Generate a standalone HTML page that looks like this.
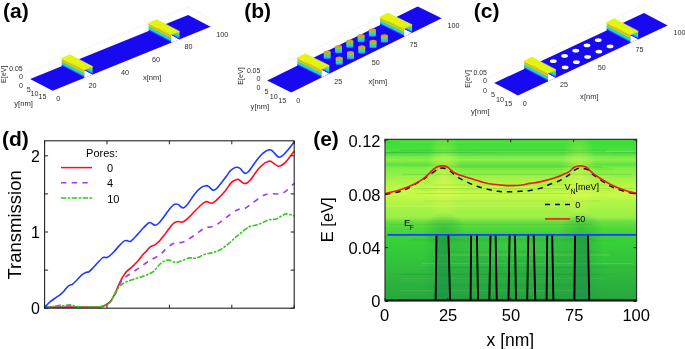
<!DOCTYPE html><html><head><meta charset="utf-8"><style>html,body{margin:0;padding:0;background:#fff;width:685px;height:349px;overflow:hidden}svg text{font-family:'Liberation Sans',sans-serif}</style></head><body><svg width="685" height="349" viewBox="0 0 685 349" style="position:absolute;left:0;top:0;filter:blur(0.45px)">
<defs><linearGradient id="bumpg" x1="0" y1="0" x2="0" y2="1"><stop offset="0" stop-color="#c8d028"/><stop offset="0.2" stop-color="#80e040"/><stop offset="0.4" stop-color="#30e070"/><stop offset="0.6" stop-color="#30c8f0"/><stop offset="0.82" stop-color="#5090ff"/><stop offset="1" stop-color="#2020f0"/></linearGradient></defs>
<rect width="685" height="349" fill="#fff"/>
<line x1="23.78" y1="73.56" x2="188.1" y2="7.1" stroke="#f0f0f0" stroke-width="0.6"/>
<line x1="188.1" y1="7.1" x2="210.6" y2="18.8" stroke="#f0f0f0" stroke-width="0.6"/>
<line x1="23.78" y1="81.56" x2="23.78" y2="73.56" stroke="#f0f0f0" stroke-width="0.6"/>
<line x1="210.6" y1="26.8" x2="210.6" y2="18.8" stroke="#f0f0f0" stroke-width="0.6"/>
<line x1="23.78" y1="81.56" x2="46.28" y2="93.26" stroke="#f0f0f0" stroke-width="0.6"/>
<polygon points="30.1,79 188.1,15.1 210.6,26.8 52.6,90.7" fill="#170af0"/>
<linearGradient id="wga20" gradientUnits="userSpaceOnUse" x1="61.7" y1="58.22" x2="58.43" y2="64.52"><stop offset="0" stop-color="#e2f410"/><stop offset="0.07" stop-color="#e6e014"/><stop offset="0.14" stop-color="#eea626"/><stop offset="0.24" stop-color="#e4b024"/><stop offset="0.32" stop-color="#b0e82c"/><stop offset="0.44" stop-color="#40e060"/><stop offset="0.58" stop-color="#28d8c8"/><stop offset="0.72" stop-color="#48b0ff"/><stop offset="0.86" stop-color="#2c48f8"/><stop offset="1" stop-color="#170af0"/></linearGradient>
<polygon points="84.2,69.92 92.57,74.53 84.2,77.92" fill="#fff"/>
<linearGradient id="fga20" gradientUnits="userSpaceOnUse" x1="92.57" y1="66.53" x2="89.3" y2="72.83"><stop offset="0" stop-color="#e2f410"/><stop offset="0.2" stop-color="#b8ec28"/><stop offset="0.42" stop-color="#40e060"/><stop offset="0.6" stop-color="#20d8d8"/><stop offset="0.78" stop-color="#40a0ff"/><stop offset="1" stop-color="#1a0cf0"/></linearGradient>
<polygon points="84.2,69.92 92.57,66.53 92.57,74.53" fill="url(#fga20)"/>
<polygon points="61.7,58.22 84.2,69.92 84.2,77.92 61.7,66.22" fill="url(#wga20)"/>
<polygon points="61.7,58.22 70.07,54.83 92.57,66.53 84.2,69.92" fill="#e2f410" stroke="#e2f410" stroke-width="0.7" stroke-linejoin="round"/>
<linearGradient id="wga75" gradientUnits="userSpaceOnUse" x1="148.6" y1="23.07" x2="145.33" y2="29.37"><stop offset="0" stop-color="#e2f410"/><stop offset="0.07" stop-color="#e6e014"/><stop offset="0.14" stop-color="#eea626"/><stop offset="0.24" stop-color="#e4b024"/><stop offset="0.32" stop-color="#b0e82c"/><stop offset="0.44" stop-color="#40e060"/><stop offset="0.58" stop-color="#28d8c8"/><stop offset="0.72" stop-color="#48b0ff"/><stop offset="0.86" stop-color="#2c48f8"/><stop offset="1" stop-color="#170af0"/></linearGradient>
<polygon points="171.1,34.77 179.47,39.39 171.1,42.77" fill="#fff"/>
<linearGradient id="fga75" gradientUnits="userSpaceOnUse" x1="179.47" y1="31.39" x2="176.2" y2="37.69"><stop offset="0" stop-color="#e2f410"/><stop offset="0.2" stop-color="#b8ec28"/><stop offset="0.42" stop-color="#40e060"/><stop offset="0.6" stop-color="#20d8d8"/><stop offset="0.78" stop-color="#40a0ff"/><stop offset="1" stop-color="#1a0cf0"/></linearGradient>
<polygon points="171.1,34.77 179.47,31.39 179.47,39.39" fill="url(#fga75)"/>
<polygon points="148.6,23.07 171.1,34.77 171.1,42.77 148.6,31.07" fill="url(#wga75)"/>
<polygon points="148.6,23.07 156.97,19.69 179.47,31.39 171.1,34.77" fill="#e2f410" stroke="#e2f410" stroke-width="0.7" stroke-linejoin="round"/>
<line x1="261.18" y1="75.57" x2="417.7" y2="-1.6" stroke="#f0f0f0" stroke-width="0.6"/>
<line x1="417.7" y1="-1.6" x2="441.7" y2="10.17" stroke="#f0f0f0" stroke-width="0.6"/>
<line x1="261.18" y1="83.57" x2="261.18" y2="75.57" stroke="#f0f0f0" stroke-width="0.6"/>
<line x1="441.7" y1="18.17" x2="441.7" y2="10.17" stroke="#f0f0f0" stroke-width="0.6"/>
<line x1="261.18" y1="83.57" x2="285.18" y2="95.34" stroke="#f0f0f0" stroke-width="0.6"/>
<polygon points="267.2,80.6 417.7,6.4 441.7,18.17 291.2,92.38" fill="#170af0"/>
<path d="M323.73,52.2 L323.73,57.8 A3.5,1.6 0 0 0 330.73,57.8 L330.73,52.2 Z" fill="url(#bumpg)"/>
<ellipse cx="327.23" cy="52.2" rx="3.5" ry="1.6" fill="#d89c28"/>
<path d="M335.01,46.64 L335.01,52.24 A3.5,1.6 0 0 0 342.01,52.24 L342.01,46.64 Z" fill="url(#bumpg)"/>
<ellipse cx="338.51" cy="46.64" rx="3.5" ry="1.6" fill="#d89c28"/>
<path d="M346.3,41.07 L346.3,46.67 A3.5,1.6 0 0 0 353.3,46.67 L353.3,41.07 Z" fill="url(#bumpg)"/>
<ellipse cx="349.8" cy="41.07" rx="3.5" ry="1.6" fill="#d89c28"/>
<path d="M357.59,35.51 L357.59,41.11 A3.5,1.6 0 0 0 364.59,41.11 L364.59,35.51 Z" fill="url(#bumpg)"/>
<ellipse cx="361.09" cy="35.51" rx="3.5" ry="1.6" fill="#d89c28"/>
<path d="M368.88,29.94 L368.88,35.54 A3.5,1.6 0 0 0 375.88,35.54 L375.88,29.94 Z" fill="url(#bumpg)"/>
<ellipse cx="372.38" cy="29.94" rx="3.5" ry="1.6" fill="#d89c28"/>
<path d="M335.73,58.09 L335.73,63.69 A3.5,1.6 0 0 0 342.73,63.69 L342.73,58.09 Z" fill="url(#bumpg)"/>
<ellipse cx="339.23" cy="58.09" rx="3.5" ry="1.6" fill="#d89c28"/>
<path d="M347.01,52.53 L347.01,58.13 A3.5,1.6 0 0 0 354.01,58.13 L354.01,52.53 Z" fill="url(#bumpg)"/>
<ellipse cx="350.51" cy="52.53" rx="3.5" ry="1.6" fill="#d89c28"/>
<path d="M358.3,46.96 L358.3,52.56 A3.5,1.6 0 0 0 365.3,52.56 L365.3,46.96 Z" fill="url(#bumpg)"/>
<ellipse cx="361.8" cy="46.96" rx="3.5" ry="1.6" fill="#d89c28"/>
<path d="M369.59,41.4 L369.59,47 A3.5,1.6 0 0 0 376.59,47 L376.59,41.4 Z" fill="url(#bumpg)"/>
<ellipse cx="373.09" cy="41.4" rx="3.5" ry="1.6" fill="#d89c28"/>
<path d="M380.88,35.83 L380.88,41.43 A3.5,1.6 0 0 0 387.88,41.43 L387.88,35.83 Z" fill="url(#bumpg)"/>
<ellipse cx="384.38" cy="35.83" rx="3.5" ry="1.6" fill="#d89c28"/>
<linearGradient id="wgb20" gradientUnits="userSpaceOnUse" x1="297.3" y1="57.76" x2="294.14" y2="64.21"><stop offset="0" stop-color="#e2f410"/><stop offset="0.07" stop-color="#e6e014"/><stop offset="0.14" stop-color="#eea626"/><stop offset="0.24" stop-color="#e4b024"/><stop offset="0.32" stop-color="#b0e82c"/><stop offset="0.44" stop-color="#40e060"/><stop offset="0.58" stop-color="#28d8c8"/><stop offset="0.72" stop-color="#48b0ff"/><stop offset="0.86" stop-color="#2c48f8"/><stop offset="1" stop-color="#170af0"/></linearGradient>
<polygon points="321.3,69.53 329.28,73.6 321.3,77.53" fill="#fff"/>
<linearGradient id="fgb20" gradientUnits="userSpaceOnUse" x1="329.28" y1="65.6" x2="326.11" y2="72.05"><stop offset="0" stop-color="#e2f410"/><stop offset="0.2" stop-color="#b8ec28"/><stop offset="0.42" stop-color="#40e060"/><stop offset="0.6" stop-color="#20d8d8"/><stop offset="0.78" stop-color="#40a0ff"/><stop offset="1" stop-color="#1a0cf0"/></linearGradient>
<polygon points="321.3,69.53 329.28,65.6 329.28,73.6" fill="url(#fgb20)"/>
<polygon points="297.3,57.76 321.3,69.53 321.3,77.53 297.3,65.76" fill="url(#wgb20)"/>
<polygon points="297.3,57.76 305.28,53.83 329.28,65.6 321.3,69.53" fill="#e2f410" stroke="#e2f410" stroke-width="0.7" stroke-linejoin="round"/>
<linearGradient id="wgb75" gradientUnits="userSpaceOnUse" x1="380.07" y1="16.95" x2="376.91" y2="23.4"><stop offset="0" stop-color="#e2f410"/><stop offset="0.07" stop-color="#e6e014"/><stop offset="0.14" stop-color="#eea626"/><stop offset="0.24" stop-color="#e4b024"/><stop offset="0.32" stop-color="#b0e82c"/><stop offset="0.44" stop-color="#40e060"/><stop offset="0.58" stop-color="#28d8c8"/><stop offset="0.72" stop-color="#48b0ff"/><stop offset="0.86" stop-color="#2c48f8"/><stop offset="1" stop-color="#170af0"/></linearGradient>
<polygon points="404.07,28.72 412.05,32.79 404.07,36.72" fill="#fff"/>
<linearGradient id="fgb75" gradientUnits="userSpaceOnUse" x1="412.05" y1="24.79" x2="408.89" y2="31.24"><stop offset="0" stop-color="#e2f410"/><stop offset="0.2" stop-color="#b8ec28"/><stop offset="0.42" stop-color="#40e060"/><stop offset="0.6" stop-color="#20d8d8"/><stop offset="0.78" stop-color="#40a0ff"/><stop offset="1" stop-color="#1a0cf0"/></linearGradient>
<polygon points="404.07,28.72 412.05,24.79 412.05,32.79" fill="url(#fgb75)"/>
<polygon points="380.07,16.95 404.07,28.72 404.07,36.72 380.07,24.95" fill="url(#wgb75)"/>
<polygon points="380.07,16.95 388.05,13.02 412.05,24.79 404.07,28.72" fill="#e2f410" stroke="#e2f410" stroke-width="0.7" stroke-linejoin="round"/>
<line x1="488.21" y1="77.7" x2="644" y2="4.9" stroke="#f0f0f0" stroke-width="0.6"/>
<line x1="644" y1="4.9" x2="667.7" y2="17.4" stroke="#f0f0f0" stroke-width="0.6"/>
<line x1="488.21" y1="85.7" x2="488.21" y2="77.7" stroke="#f0f0f0" stroke-width="0.6"/>
<line x1="667.7" y1="25.4" x2="667.7" y2="17.4" stroke="#f0f0f0" stroke-width="0.6"/>
<line x1="488.21" y1="85.7" x2="511.91" y2="98.2" stroke="#f0f0f0" stroke-width="0.6"/>
<polygon points="494.2,82.9 644,12.9 667.7,25.4 517.9,95.4" fill="#170af0"/>
<ellipse cx="553.3" cy="61.17" rx="3.4" ry="1.8" fill="#fff"/>
<ellipse cx="564.54" cy="55.92" rx="3.4" ry="1.8" fill="#fff"/>
<ellipse cx="575.77" cy="50.67" rx="3.4" ry="1.8" fill="#fff"/>
<ellipse cx="587.01" cy="45.42" rx="3.4" ry="1.8" fill="#fff"/>
<ellipse cx="598.24" cy="40.17" rx="3.4" ry="1.8" fill="#fff"/>
<ellipse cx="565.15" cy="67.42" rx="3.4" ry="1.8" fill="#fff"/>
<ellipse cx="576.39" cy="62.17" rx="3.4" ry="1.8" fill="#fff"/>
<ellipse cx="587.62" cy="56.92" rx="3.4" ry="1.8" fill="#fff"/>
<ellipse cx="598.86" cy="51.67" rx="3.4" ry="1.8" fill="#fff"/>
<ellipse cx="610.09" cy="46.42" rx="3.4" ry="1.8" fill="#fff"/>
<linearGradient id="wgc20" gradientUnits="userSpaceOnUse" x1="524.16" y1="60.9" x2="520.86" y2="67.16"><stop offset="0" stop-color="#e2f410"/><stop offset="0.07" stop-color="#e6e014"/><stop offset="0.14" stop-color="#eea626"/><stop offset="0.24" stop-color="#e4b024"/><stop offset="0.32" stop-color="#b0e82c"/><stop offset="0.44" stop-color="#40e060"/><stop offset="0.58" stop-color="#28d8c8"/><stop offset="0.72" stop-color="#48b0ff"/><stop offset="0.86" stop-color="#2c48f8"/><stop offset="1" stop-color="#170af0"/></linearGradient>
<polygon points="547.86,73.4 555.8,77.69 547.86,81.4" fill="#fff"/>
<linearGradient id="fgc20" gradientUnits="userSpaceOnUse" x1="555.8" y1="69.69" x2="552.5" y2="75.94"><stop offset="0" stop-color="#e2f410"/><stop offset="0.2" stop-color="#b8ec28"/><stop offset="0.42" stop-color="#40e060"/><stop offset="0.6" stop-color="#20d8d8"/><stop offset="0.78" stop-color="#40a0ff"/><stop offset="1" stop-color="#1a0cf0"/></linearGradient>
<polygon points="547.86,73.4 555.8,69.69 555.8,77.69" fill="url(#fgc20)"/>
<polygon points="524.16,60.9 547.86,73.4 547.86,81.4 524.16,68.9" fill="url(#wgc20)"/>
<polygon points="524.16,60.9 532.1,57.19 555.8,69.69 547.86,73.4" fill="#e2f410" stroke="#e2f410" stroke-width="0.7" stroke-linejoin="round"/>
<linearGradient id="wgc75" gradientUnits="userSpaceOnUse" x1="606.55" y1="22.4" x2="603.25" y2="28.66"><stop offset="0" stop-color="#e2f410"/><stop offset="0.07" stop-color="#e6e014"/><stop offset="0.14" stop-color="#eea626"/><stop offset="0.24" stop-color="#e4b024"/><stop offset="0.32" stop-color="#b0e82c"/><stop offset="0.44" stop-color="#40e060"/><stop offset="0.58" stop-color="#28d8c8"/><stop offset="0.72" stop-color="#48b0ff"/><stop offset="0.86" stop-color="#2c48f8"/><stop offset="1" stop-color="#170af0"/></linearGradient>
<polygon points="630.25,34.9 638.19,39.19 630.25,42.9" fill="#fff"/>
<linearGradient id="fgc75" gradientUnits="userSpaceOnUse" x1="638.19" y1="31.19" x2="634.89" y2="37.44"><stop offset="0" stop-color="#e2f410"/><stop offset="0.2" stop-color="#b8ec28"/><stop offset="0.42" stop-color="#40e060"/><stop offset="0.6" stop-color="#20d8d8"/><stop offset="0.78" stop-color="#40a0ff"/><stop offset="1" stop-color="#1a0cf0"/></linearGradient>
<polygon points="630.25,34.9 638.19,31.19 638.19,39.19" fill="url(#fgc75)"/>
<polygon points="606.55,22.4 630.25,34.9 630.25,42.9 606.55,30.4" fill="url(#wgc75)"/>
<polygon points="606.55,22.4 614.49,18.69 638.19,31.19 630.25,34.9" fill="#e2f410" stroke="#e2f410" stroke-width="0.7" stroke-linejoin="round"/>
<text x="3" y="18.2" font-size="21" text-anchor="start" font-weight="bold" fill="#000" style="font-family:'Liberation Sans',sans-serif" >(a)</text>
<text x="244.2" y="18.4" font-size="21" text-anchor="start" font-weight="bold" fill="#000" style="font-family:'Liberation Sans',sans-serif" >(b)</text>
<text x="473.8" y="18.4" font-size="21" text-anchor="start" font-weight="bold" fill="#000" style="font-family:'Liberation Sans',sans-serif" >(c)</text>
<text x="2" y="146.2" font-size="21" text-anchor="start" font-weight="bold" fill="#000" style="font-family:'Liberation Sans',sans-serif" >(d)</text>
<text x="313.2" y="146.4" font-size="21" text-anchor="start" font-weight="bold" fill="#000" style="font-family:'Liberation Sans',sans-serif" >(e)</text>
<text x="16" y="70.7" font-size="6.9" text-anchor="middle" font-weight="normal" fill="#2a2a2a" style="font-family:'Liberation Sans',sans-serif" >0.05</text>
<text x="21" y="78.7" font-size="7.2" text-anchor="middle" font-weight="normal" fill="#2a2a2a" style="font-family:'Liberation Sans',sans-serif" >0</text>
<text x="21" y="87.6" font-size="7.2" text-anchor="middle" font-weight="normal" fill="#2a2a2a" style="font-family:'Liberation Sans',sans-serif" >0</text>
<text x="28.7" y="91.8" font-size="7.2" text-anchor="middle" font-weight="normal" fill="#2a2a2a" style="font-family:'Liberation Sans',sans-serif" >5</text>
<text x="34.6" y="96.1" font-size="7.2" text-anchor="middle" font-weight="normal" fill="#2a2a2a" style="font-family:'Liberation Sans',sans-serif" >10</text>
<text x="42.5" y="99.4" font-size="7.2" text-anchor="middle" font-weight="normal" fill="#2a2a2a" style="font-family:'Liberation Sans',sans-serif" >15</text>
<text x="58.3" y="100.5" font-size="7.2" text-anchor="middle" font-weight="normal" fill="#2a2a2a" style="font-family:'Liberation Sans',sans-serif" >0</text>
<text x="92.5" y="88.2" font-size="7.2" text-anchor="middle" font-weight="normal" fill="#2a2a2a" style="font-family:'Liberation Sans',sans-serif" >20</text>
<text x="125" y="75.2" font-size="7.2" text-anchor="middle" font-weight="normal" fill="#2a2a2a" style="font-family:'Liberation Sans',sans-serif" >40</text>
<text x="156" y="61.7" font-size="7.2" text-anchor="middle" font-weight="normal" fill="#2a2a2a" style="font-family:'Liberation Sans',sans-serif" >60</text>
<text x="188.5" y="48.9" font-size="7.2" text-anchor="middle" font-weight="normal" fill="#2a2a2a" style="font-family:'Liberation Sans',sans-serif" >80</text>
<text x="222.3" y="36.8" font-size="7.2" text-anchor="middle" font-weight="normal" fill="#2a2a2a" style="font-family:'Liberation Sans',sans-serif" >100</text>
<text x="23.6" y="106.4" font-size="7.6" text-anchor="middle" font-weight="normal" fill="#2a2a2a" style="font-family:'Liberation Sans',sans-serif" >y[nm]</text>
<text x="152.2" y="79.8" font-size="7.6" text-anchor="middle" font-weight="normal" fill="#2a2a2a" style="font-family:'Liberation Sans',sans-serif" >x[nm]</text>
<text transform="translate(6.1,74.3) rotate(-90)" font-size="7.2" text-anchor="middle" fill="#2a2a2a" style="font-family:'Liberation Sans',sans-serif">E[eV]</text>
<text x="253.6" y="72.7" font-size="6.9" text-anchor="middle" font-weight="normal" fill="#2a2a2a" style="font-family:'Liberation Sans',sans-serif" >0.05</text>
<text x="258.6" y="80.8" font-size="7.2" text-anchor="middle" font-weight="normal" fill="#2a2a2a" style="font-family:'Liberation Sans',sans-serif" >0</text>
<text x="258.6" y="89.6" font-size="7.2" text-anchor="middle" font-weight="normal" fill="#2a2a2a" style="font-family:'Liberation Sans',sans-serif" >0</text>
<text x="266.4" y="94.2" font-size="7.2" text-anchor="middle" font-weight="normal" fill="#2a2a2a" style="font-family:'Liberation Sans',sans-serif" >5</text>
<text x="273.8" y="99" font-size="7.2" text-anchor="middle" font-weight="normal" fill="#2a2a2a" style="font-family:'Liberation Sans',sans-serif" >10</text>
<text x="282.2" y="103" font-size="7.2" text-anchor="middle" font-weight="normal" fill="#2a2a2a" style="font-family:'Liberation Sans',sans-serif" >15</text>
<text x="298.2" y="102.9" font-size="7.2" text-anchor="middle" font-weight="normal" fill="#2a2a2a" style="font-family:'Liberation Sans',sans-serif" >0</text>
<text x="338.2" y="84.4" font-size="7.2" text-anchor="middle" font-weight="normal" fill="#2a2a2a" style="font-family:'Liberation Sans',sans-serif" >25</text>
<text x="375.8" y="65.4" font-size="7.2" text-anchor="middle" font-weight="normal" fill="#2a2a2a" style="font-family:'Liberation Sans',sans-serif" >50</text>
<text x="413.5" y="46.7" font-size="7.2" text-anchor="middle" font-weight="normal" fill="#2a2a2a" style="font-family:'Liberation Sans',sans-serif" >75</text>
<text x="453.5" y="28.3" font-size="7.2" text-anchor="middle" font-weight="normal" fill="#2a2a2a" style="font-family:'Liberation Sans',sans-serif" >100</text>
<text x="259.9" y="109.2" font-size="7.6" text-anchor="middle" font-weight="normal" fill="#2a2a2a" style="font-family:'Liberation Sans',sans-serif" >y[nm]</text>
<text x="377.8" y="84.1" font-size="7.6" text-anchor="middle" font-weight="normal" fill="#2a2a2a" style="font-family:'Liberation Sans',sans-serif" >x[nm]</text>
<text transform="translate(242.6,76.0) rotate(-90)" font-size="7.2" text-anchor="middle" fill="#2a2a2a" style="font-family:'Liberation Sans',sans-serif">E[eV]</text>
<text x="480.2" y="75.3" font-size="6.9" text-anchor="middle" font-weight="normal" fill="#2a2a2a" style="font-family:'Liberation Sans',sans-serif" >0.05</text>
<text x="485.1" y="83.4" font-size="7.2" text-anchor="middle" font-weight="normal" fill="#2a2a2a" style="font-family:'Liberation Sans',sans-serif" >0</text>
<text x="485.1" y="92.8" font-size="7.2" text-anchor="middle" font-weight="normal" fill="#2a2a2a" style="font-family:'Liberation Sans',sans-serif" >0</text>
<text x="493.1" y="96.6" font-size="7.2" text-anchor="middle" font-weight="normal" fill="#2a2a2a" style="font-family:'Liberation Sans',sans-serif" >5</text>
<text x="499.9" y="101.5" font-size="7.2" text-anchor="middle" font-weight="normal" fill="#2a2a2a" style="font-family:'Liberation Sans',sans-serif" >10</text>
<text x="508.3" y="105.8" font-size="7.2" text-anchor="middle" font-weight="normal" fill="#2a2a2a" style="font-family:'Liberation Sans',sans-serif" >15</text>
<text x="524.8" y="105.6" font-size="7.2" text-anchor="middle" font-weight="normal" fill="#2a2a2a" style="font-family:'Liberation Sans',sans-serif" >0</text>
<text x="564" y="87.3" font-size="7.2" text-anchor="middle" font-weight="normal" fill="#2a2a2a" style="font-family:'Liberation Sans',sans-serif" >25</text>
<text x="601.7" y="70.3" font-size="7.2" text-anchor="middle" font-weight="normal" fill="#2a2a2a" style="font-family:'Liberation Sans',sans-serif" >50</text>
<text x="639.6" y="52.4" font-size="7.2" text-anchor="middle" font-weight="normal" fill="#2a2a2a" style="font-family:'Liberation Sans',sans-serif" >75</text>
<text x="679.5" y="35.2" font-size="7.2" text-anchor="middle" font-weight="normal" fill="#2a2a2a" style="font-family:'Liberation Sans',sans-serif" >100</text>
<text x="480.3" y="114.2" font-size="7.6" text-anchor="middle" font-weight="normal" fill="#2a2a2a" style="font-family:'Liberation Sans',sans-serif" >y[nm]</text>
<text x="589.4" y="98.6" font-size="7.6" text-anchor="middle" font-weight="normal" fill="#2a2a2a" style="font-family:'Liberation Sans',sans-serif" >x[nm]</text>
<text transform="translate(470.1,78.9) rotate(-90)" font-size="7.2" text-anchor="middle" fill="#2a2a2a" style="font-family:'Liberation Sans',sans-serif">E[eV]</text>
<clipPath id="clipd"><rect x="44.6" y="138.8" width="250.6" height="169.39999999999998"/></clipPath>
<g clip-path="url(#clipd)" fill="none" stroke-width="1.6" stroke-linejoin="round">
<path d="M44.6,307.1 C47.17,307.1 54.1,307.1 60,307.1 C65.9,307.1 74.17,307.12 80,307.1 C85.83,307.08 91.45,307.07 95,307 C98.55,306.93 99.47,307.08 101.3,306.7 C103.13,306.32 104.42,305.7 106,304.7 C107.58,303.7 109.35,302.42 110.8,300.7 C112.25,298.98 113.4,297.02 114.7,294.4 C116,291.78 117.28,287.88 118.6,285 C119.92,282.12 121.28,279.33 122.6,277.1 C123.92,274.87 125.05,273.18 126.5,271.6 C127.95,270.02 129.45,269.32 131.3,267.6 C133.15,265.88 135.77,263.33 137.6,261.3 C139.43,259.27 140.9,257.03 142.3,255.4 C143.7,253.77 144.77,252.85 146,251.5 C147.23,250.15 148.67,248.25 149.7,247.3 C150.73,246.35 151.42,246.15 152.2,245.8 C152.98,245.45 153.23,245.97 154.4,245.2 C155.57,244.43 157.62,242.8 159.2,241.2 C160.78,239.6 162.33,237.58 163.9,235.6 C165.47,233.62 167.15,231.2 168.6,229.3 C170.05,227.4 171.45,225.38 172.6,224.2 C173.75,223.02 174.58,222.65 175.5,222.2 C176.42,221.75 176.93,221.52 178.1,221.5 C179.27,221.48 180.75,222.75 182.5,222.1 C184.25,221.45 186.57,219.4 188.6,217.6 C190.63,215.8 192.63,213.4 194.7,211.3 C196.77,209.2 199.45,206.45 201,205 C202.55,203.55 203.03,203.17 204,202.6 C204.97,202.03 205.55,201.5 206.8,201.6 C208.05,201.7 210.13,203.25 211.5,203.2 C212.87,203.15 213.87,202.1 215,201.3 C216.13,200.5 216.63,200.08 218.3,198.4 C219.97,196.72 222.83,193.83 225,191.2 C227.17,188.57 229.55,184.47 231.3,182.6 C233.05,180.73 234.32,180.5 235.5,180 C236.68,179.5 236.87,179 238.4,179.6 C239.93,180.2 242.73,183.5 244.7,183.6 C246.67,183.7 247.97,182.6 250.2,180.2 C252.43,177.8 255.73,172.02 258.1,169.2 C260.47,166.38 262.75,164.57 264.4,163.3 C266.05,162.03 266.95,161.93 268,161.6 C269.05,161.27 268.93,160.52 270.7,161.3 C272.47,162.08 276.23,166.03 278.6,166.3 C280.97,166.57 282.8,164.78 284.9,162.9 C287,161.02 289.62,156.98 291.2,155 C292.78,153.02 293.87,151.67 294.4,151" stroke="#ff0c1e"/>
<path d="M44.6,307.2 C45.83,307.15 50.1,307.1 52,306.9 C53.9,306.7 54.67,306.22 56,306 C57.33,305.78 58.67,305.53 60,305.6 C61.33,305.67 62.67,306.43 64,306.4 C65.33,306.37 66.67,305.5 68,305.4 C69.33,305.3 70.67,305.63 72,305.8 C73.33,305.97 74.67,306.2 76,306.4 C77.33,306.6 76.83,306.9 80,307 C83.17,307.1 91.45,307.07 95,307 C98.55,306.93 99.72,306.73 101.3,306.6 C102.88,306.47 102.92,307.05 104.5,306.2 C106.08,305.35 109.1,303.33 110.8,301.5 C112.5,299.67 113.4,297.7 114.7,295.2 C116,292.7 117.28,289.13 118.6,286.5 C119.92,283.87 121.28,281.1 122.6,279.4 C123.92,277.7 124.27,277.87 126.5,276.3 C128.73,274.73 132.32,272.5 136,270 C139.68,267.5 144.67,263.8 148.6,261.3 C152.53,258.8 156.6,257.2 159.6,255 C162.6,252.8 164.38,249.97 166.6,248.1 C168.82,246.23 171.07,244.77 172.9,243.8 C174.73,242.83 176.15,242.52 177.6,242.3 C179.05,242.08 180.02,242.85 181.6,242.5 C183.18,242.15 184.62,241.63 187.1,240.2 C189.58,238.77 193.48,236 196.5,233.9 C199.52,231.8 202.83,228.73 205.2,227.6 C207.57,226.47 208.73,227.63 210.7,227.1 C212.67,226.57 214.37,226.03 217,224.4 C219.63,222.77 223.85,219.32 226.5,217.3 C229.15,215.28 231.15,213.52 232.9,212.3 C234.65,211.08 235.68,210.57 237,210 C238.32,209.43 239.52,209.13 240.8,208.9 C242.08,208.67 242.87,209.48 244.7,208.6 C246.53,207.72 249.03,205.6 251.8,203.6 C254.57,201.6 258.93,198.12 261.3,196.6 C263.67,195.08 264.43,195.03 266,194.5 C267.57,193.97 268.6,193.48 270.7,193.4 C272.8,193.32 276.23,194.27 278.6,194 C280.97,193.73 282.53,193.35 284.9,191.8 C287.27,190.25 291.22,186.12 292.8,184.7 C294.38,183.28 294.13,183.53 294.4,183.3" stroke="#a436f4" stroke-dasharray="5.4 5.4"/>
<path d="M44.6,307.2 C45.83,307.13 50.1,307.03 52,306.8 C53.9,306.57 54.67,306.07 56,305.8 C57.33,305.53 58.83,305.18 60,305.2 C61.17,305.22 62,305.88 63,305.9 C64,305.92 64.83,305.45 66,305.3 C67.17,305.15 68.67,304.93 70,305 C71.33,305.07 72.67,305.4 74,305.7 C75.33,306 74.5,306.58 78,306.8 C81.5,307.02 91.12,307.03 95,307 C98.88,306.97 99.72,306.73 101.3,306.6 C102.88,306.47 102.92,307.05 104.5,306.2 C106.08,305.35 108.97,303.78 110.8,301.5 C112.63,299.22 113.93,295.13 115.5,292.5 C117.07,289.87 118.37,287.48 120.2,285.7 C122.03,283.92 123.87,282.98 126.5,281.8 C129.13,280.62 132.85,279.65 136,278.6 C139.15,277.55 142.52,276.67 145.4,275.5 C148.28,274.33 150.93,273.43 153.3,271.6 C155.67,269.77 157.83,266.22 159.6,264.5 C161.37,262.78 162.4,262.03 163.9,261.3 C165.4,260.57 166.92,259.97 168.6,260.1 C170.28,260.23 172.47,261.75 174,262.1 C175.53,262.45 176.3,262.5 177.8,262.2 C179.3,261.9 181.03,261.02 183,260.3 C184.97,259.58 187.35,258.27 189.6,257.9 C191.85,257.53 194.03,258.68 196.5,258.1 C198.97,257.52 201.77,255.28 204.4,254.4 C207.03,253.52 209.67,253.58 212.3,252.8 C214.93,252.02 217.57,251.15 220.2,249.7 C222.83,248.25 225.63,246.08 228.1,244.1 C230.57,242.12 233.15,239.42 235,237.8 C236.85,236.18 236.93,236.2 239.2,234.4 C241.47,232.6 245.72,228.58 248.6,227 C251.48,225.42 254.13,225.63 256.5,224.9 C258.87,224.17 260.7,223.47 262.8,222.6 C264.9,221.73 266.87,220.28 269.1,219.7 C271.33,219.12 274.08,219.73 276.2,219.1 C278.32,218.47 280.08,216.77 281.8,215.9 C283.52,215.03 284.67,213.97 286.5,213.9 C288.33,213.83 291.48,215.15 292.8,215.5 C294.12,215.85 294.13,215.92 294.4,216" stroke="#36c620" stroke-dasharray="5.4 1.4 2.6 1.4"/>
<path d="M44.6,307.9 C44.77,307.65 44.65,307.43 45.6,306.4 C46.55,305.37 48.6,303.15 50.3,301.7 C52,300.25 54.08,298.93 55.8,297.7 C57.52,296.47 59.15,295.5 60.6,294.3 C62.05,293.1 63.33,291.77 64.5,290.5 C65.67,289.23 66.65,287.62 67.6,286.7 C68.55,285.78 69.4,285.4 70.2,285 C71,284.6 71.27,285.13 72.4,284.3 C73.53,283.47 75.43,281.57 77,280 C78.57,278.43 80.33,276.15 81.8,274.9 C83.27,273.65 84.62,273.03 85.8,272.5 C86.98,271.97 87.78,272.38 88.9,271.7 C90.02,271.02 91.32,269.58 92.5,268.4 C93.68,267.22 94.37,266.33 96,264.6 C97.63,262.87 100.83,259.2 102.3,258 C103.77,256.8 104,257.48 104.8,257.4 C105.6,257.32 106.23,257.82 107.1,257.5 C107.97,257.18 108.93,256.38 110,255.5 C111.07,254.62 111.87,253.93 113.5,252.2 C115.13,250.47 117.97,246.98 119.8,245.1 C121.63,243.22 123.2,241.63 124.5,240.9 C125.8,240.17 126.55,240.65 127.6,240.7 C128.65,240.75 129.22,242.17 130.8,241.2 C132.38,240.23 135,237.13 137.1,234.9 C139.2,232.67 141.43,229.83 143.4,227.8 C145.37,225.77 147.58,223.47 148.9,222.7 C150.22,221.93 150.25,222.78 151.3,223.2 C152.35,223.62 153.88,225.28 155.2,225.2 C156.52,225.12 157.75,224.12 159.2,222.7 C160.65,221.28 162.45,218.6 163.9,216.7 C165.35,214.8 166.63,212.95 167.9,211.3 C169.17,209.65 170.32,207.98 171.5,206.8 C172.68,205.62 173.9,204.6 175,204.2 C176.1,203.8 176.78,203.78 178.1,204.4 C179.42,205.02 181.32,207.93 182.9,207.9 C184.48,207.87 185.63,206.53 187.6,204.2 C189.57,201.87 192.47,196.67 194.7,193.9 C196.93,191.13 199.17,188.97 201,187.6 C202.83,186.23 204.38,185.87 205.7,185.7 C207.02,185.53 207.72,185.87 208.9,186.6 C210.08,187.33 211.48,189.8 212.8,190.1 C214.12,190.4 215.08,190 216.8,188.4 C218.52,186.8 221.4,182.65 223.1,180.5 C224.8,178.35 225.77,177.13 227,175.5 C228.23,173.87 229,172.07 230.5,170.7 C232,169.33 234.42,167.68 236,167.3 C237.58,166.92 238.55,167.42 240,168.4 C241.45,169.38 243.27,172.68 244.7,173.2 C246.13,173.72 246.63,173.62 248.6,171.5 C250.57,169.38 254.13,163.52 256.5,160.5 C258.87,157.48 260.7,155.18 262.8,153.4 C264.9,151.62 267.52,150.22 269.1,149.8 C270.68,149.38 270.72,149.68 272.3,150.9 C273.88,152.12 276.77,156.42 278.6,157.1 C280.43,157.78 281.47,156.53 283.3,155 C285.13,153.47 287.75,150.17 289.6,147.9 C291.45,145.63 293.6,142.48 294.4,141.4" stroke="#1e3cff"/>
</g>
<rect x="44.6" y="140.8" width="249.6" height="167.39999999999998" fill="none" stroke="#222" stroke-width="1.1"/>
<line x1="44.6" y1="308.2" x2="44.6" y2="304.7" stroke="#222" stroke-width="1"/>
<line x1="44.6" y1="140.8" x2="44.6" y2="144.3" stroke="#222" stroke-width="1"/>
<line x1="107" y1="308.2" x2="107" y2="304.7" stroke="#222" stroke-width="1"/>
<line x1="107" y1="140.8" x2="107" y2="144.3" stroke="#222" stroke-width="1"/>
<line x1="169.4" y1="308.2" x2="169.4" y2="304.7" stroke="#222" stroke-width="1"/>
<line x1="169.4" y1="140.8" x2="169.4" y2="144.3" stroke="#222" stroke-width="1"/>
<line x1="231.8" y1="308.2" x2="231.8" y2="304.7" stroke="#222" stroke-width="1"/>
<line x1="231.8" y1="140.8" x2="231.8" y2="144.3" stroke="#222" stroke-width="1"/>
<line x1="294.2" y1="308.2" x2="294.2" y2="304.7" stroke="#222" stroke-width="1"/>
<line x1="294.2" y1="140.8" x2="294.2" y2="144.3" stroke="#222" stroke-width="1"/>
<line x1="44.6" y1="308.2" x2="48.1" y2="308.2" stroke="#222" stroke-width="1"/>
<line x1="294.2" y1="308.2" x2="290.7" y2="308.2" stroke="#222" stroke-width="1"/>
<line x1="44.6" y1="270.1" x2="48.1" y2="270.1" stroke="#222" stroke-width="1"/>
<line x1="294.2" y1="270.1" x2="290.7" y2="270.1" stroke="#222" stroke-width="1"/>
<line x1="44.6" y1="232" x2="48.1" y2="232" stroke="#222" stroke-width="1"/>
<line x1="294.2" y1="232" x2="290.7" y2="232" stroke="#222" stroke-width="1"/>
<line x1="44.6" y1="193.9" x2="48.1" y2="193.9" stroke="#222" stroke-width="1"/>
<line x1="294.2" y1="193.9" x2="290.7" y2="193.9" stroke="#222" stroke-width="1"/>
<line x1="44.6" y1="155.8" x2="48.1" y2="155.8" stroke="#222" stroke-width="1"/>
<line x1="294.2" y1="155.8" x2="290.7" y2="155.8" stroke="#222" stroke-width="1"/>
<text x="40" y="162.2" font-size="16" text-anchor="end" font-weight="normal" fill="#000" style="font-family:'Liberation Sans',sans-serif" >2</text>
<text x="40" y="237.6" font-size="16" text-anchor="end" font-weight="normal" fill="#000" style="font-family:'Liberation Sans',sans-serif" >1</text>
<text x="40" y="314" font-size="16" text-anchor="end" font-weight="normal" fill="#000" style="font-family:'Liberation Sans',sans-serif" >0</text>
<text transform="translate(20.6,224.9) rotate(-90)" font-size="18.5" text-anchor="middle" style="font-family:'Liberation Sans',sans-serif">Transmission</text>
<text x="102" y="157.4" font-size="11" text-anchor="middle" font-weight="normal" fill="#000" style="font-family:'Liberation Sans',sans-serif" >Pores:</text>
<line x1="61" y1="167.6" x2="92" y2="167.6" stroke="#ff0c1e" stroke-width="1.5"/>
<line x1="61" y1="182.7" x2="92" y2="182.7" stroke="#a436f4" stroke-width="1.6" stroke-dasharray="5.3 5.4"/>
<line x1="61" y1="198" x2="92" y2="198" stroke="#36c620" stroke-width="1.6" stroke-dasharray="5.4 1.4 2.6 1.4"/>
<text x="107" y="171.5" font-size="11" text-anchor="start" font-weight="normal" fill="#000" style="font-family:'Liberation Sans',sans-serif" >0</text>
<text x="107" y="186.8" font-size="11" text-anchor="start" font-weight="normal" fill="#000" style="font-family:'Liberation Sans',sans-serif" >4</text>
<text x="107.2" y="202.5" font-size="11" text-anchor="start" font-weight="normal" fill="#000" style="font-family:'Liberation Sans',sans-serif" >10</text>
<defs><linearGradient id="ebg" x1="0" y1="0" x2="0" y2="1"><stop offset="0.0000" stop-color="#3cdc36"/><stop offset="0.1151" stop-color="#48e03c"/><stop offset="0.1276" stop-color="#66e84a"/><stop offset="0.1464" stop-color="#4adc3c"/><stop offset="0.1851" stop-color="#78ec48"/><stop offset="0.2165" stop-color="#8af046"/><stop offset="0.2636" stop-color="#62e042"/><stop offset="0.3002" stop-color="#7eee46"/><stop offset="0.3839" stop-color="#94f048"/><stop offset="0.4257" stop-color="#a8f444"/><stop offset="0.5199" stop-color="#c2f844"/><stop offset="0.5826" stop-color="#c8fa46"/><stop offset="0.6454" stop-color="#b4f646"/><stop offset="0.7395" stop-color="#a4f246"/><stop offset="0.8232" stop-color="#96ee46"/><stop offset="0.8598" stop-color="#6ae040"/><stop offset="0.9278" stop-color="#50d83c"/><stop offset="1.0000" stop-color="#42d238"/></linearGradient><linearGradient id="elow" x1="0" y1="0" x2="0" y2="1"><stop offset="0" stop-color="#3ad438"/><stop offset="0.3" stop-color="#34c83a"/><stop offset="0.7" stop-color="#2cb43e"/><stop offset="1" stop-color="#26a640"/></linearGradient><linearGradient id="emid" x1="0" y1="0" x2="1" y2="0"><stop offset="0" stop-color="#1e9444" stop-opacity="0"/><stop offset="0.1" stop-color="#1e9444" stop-opacity="0.3"/><stop offset="0.9" stop-color="#1e9444" stop-opacity="0.3"/><stop offset="1" stop-color="#1e9444" stop-opacity="0"/></linearGradient><radialGradient id="epk"><stop offset="0" stop-color="#e8f850" stop-opacity="0.55"/><stop offset="1" stop-color="#e8f850" stop-opacity="0"/></radialGradient><radialGradient id="edk"><stop offset="0" stop-color="#28b040" stop-opacity="0.55"/><stop offset="0.5" stop-color="#28b040" stop-opacity="0.3"/><stop offset="1" stop-color="#22a040" stop-opacity="0"/></radialGradient><clipPath id="clipe"><rect x="385" y="139.3" width="251.6" height="161.6"/></clipPath></defs>
<g clip-path="url(#clipe)">
<rect x="385.0" y="139.3" width="251.60000000000002" height="95.6" fill="url(#ebg)"/>
<rect x="385.0" y="234.9" width="251.60000000000002" height="65.99999999999997" fill="url(#elow)"/>
<rect x="422" y="234.9" width="182" height="65.99999999999997" fill="url(#emid)"/>
<ellipse cx="444" cy="176" rx="18" ry="48" fill="url(#epk)"/>
<ellipse cx="579" cy="176" rx="18" ry="48" fill="url(#epk)"/>
<radialGradient id="emg"><stop offset="0" stop-color="#50d850" stop-opacity="0.45"/><stop offset="1" stop-color="#50d850" stop-opacity="0"/></radialGradient>
<ellipse cx="512" cy="246" rx="75" ry="14" fill="url(#emg)"/>
<ellipse cx="444" cy="230" rx="22" ry="18" fill="url(#edk)"/>
<ellipse cx="581" cy="230" rx="22" ry="18" fill="url(#edk)"/>
<rect x="421.2" y="178.1" width="177.2" height="0.7" fill="#ffffa0" opacity="0.12"/>
<rect x="399.1" y="142.1" width="177.2" height="1.0" fill="#ffffa0" opacity="0.15"/>
<rect x="394.0" y="273.8" width="203.9" height="1.3" fill="#108030" opacity="0.11"/>
<rect x="388.8" y="223.7" width="201.7" height="1.1" fill="#108030" opacity="0.14"/>
<rect x="413.4" y="188.2" width="179.5" height="1.3" fill="#108030" opacity="0.05"/>
<rect x="433.1" y="254.3" width="176.3" height="1.3" fill="#ffffa0" opacity="0.16"/>
<rect x="398.0" y="280.6" width="180.1" height="0.9" fill="#ffffa0" opacity="0.06"/>
<rect x="408.2" y="240.3" width="206.8" height="1.1" fill="#108030" opacity="0.09"/>
<rect x="436.4" y="284.7" width="140.2" height="1.1" fill="#108030" opacity="0.13"/>
<rect x="439.3" y="166.1" width="162.6" height="1.2" fill="#108030" opacity="0.15"/>
<rect x="402.1" y="173.8" width="230.1" height="1.3" fill="#108030" opacity="0.15"/>
<rect x="409.6" y="298.4" width="217.3" height="0.8" fill="#108030" opacity="0.06"/>
<rect x="421.9" y="263.0" width="211.4" height="1.2" fill="#ffffa0" opacity="0.15"/>
<rect x="415.3" y="193.0" width="160.8" height="0.8" fill="#108030" opacity="0.16"/>
<rect x="396.8" y="152.3" width="214.7" height="1.1" fill="#ffffa0" opacity="0.12"/>
<rect x="403.8" y="165.0" width="174.7" height="1.3" fill="#108030" opacity="0.06"/>
<rect x="423.6" y="200.4" width="176.6" height="1.0" fill="#108030" opacity="0.11"/>
<rect x="410.9" y="239.2" width="181.9" height="0.8" fill="#108030" opacity="0.16"/>
<rect x="417.9" y="188.2" width="217.4" height="0.9" fill="#108030" opacity="0.17"/>
<rect x="422.9" y="232.8" width="209.5" height="1.1" fill="#108030" opacity="0.05"/>
<rect x="427.4" y="214.6" width="164.3" height="0.6" fill="#ffffa0" opacity="0.13"/>
<rect x="400.1" y="149.7" width="208.6" height="1.1" fill="#108030" opacity="0.13"/>
<rect x="407.1" y="191.2" width="193.1" height="0.8" fill="#ffffa0" opacity="0.09"/>
<rect x="419.2" y="200.3" width="172.7" height="0.8" fill="#ffffa0" opacity="0.14"/>
<rect x="396.2" y="175.6" width="213.6" height="1.2" fill="#ffffa0" opacity="0.15"/>
<rect x="435.0" y="156.3" width="174.7" height="1.3" fill="#ffffa0" opacity="0.09"/>
<rect x="438.1" y="167.1" width="170.8" height="0.8" fill="#108030" opacity="0.09"/>
<rect x="433.4" y="159.3" width="152.3" height="0.7" fill="#ffffa0" opacity="0.11"/>
<rect x="433.4" y="184.6" width="181.9" height="0.7" fill="#108030" opacity="0.15"/>
<rect x="405.8" y="186.7" width="205.2" height="0.9" fill="#ffffa0" opacity="0.15"/>
<rect x="385.3" y="205.5" width="194.1" height="1.3" fill="#ffffa0" opacity="0.16"/>
<rect x="440.6" y="297.9" width="182.0" height="1.2" fill="#108030" opacity="0.10"/>
<rect x="402.3" y="273.9" width="213.2" height="0.8" fill="#108030" opacity="0.13"/>
<rect x="433.6" y="150.9" width="199.7" height="1.3" fill="#ffffa0" opacity="0.12"/>
<rect x="439.0" y="251.0" width="162.4" height="0.6" fill="#108030" opacity="0.16"/>
<rect x="424.8" y="259.2" width="179.7" height="0.9" fill="#ffffa0" opacity="0.07"/>
<rect x="400.1" y="290.2" width="184.2" height="1.0" fill="#ffffa0" opacity="0.12"/>
<rect x="417.1" y="265.2" width="169.9" height="0.7" fill="#ffffa0" opacity="0.09"/>
<rect x="434.4" y="266.7" width="201.1" height="1.1" fill="#108030" opacity="0.16"/>
<rect x="401.1" y="278.0" width="203.2" height="0.9" fill="#ffffa0" opacity="0.06"/>
<rect x="388.3" y="215.7" width="240.1" height="0.7" fill="#ffffa0" opacity="0.14"/>
<rect x="390.2" y="150.9" width="215.7" height="0.9" fill="#108030" opacity="0.17"/>
<rect x="420.2" y="190.3" width="194.2" height="0.8" fill="#108030" opacity="0.09"/>
<rect x="428.0" y="192.6" width="185.2" height="0.7" fill="#108030" opacity="0.06"/>
<rect x="432.0" y="168.6" width="181.2" height="1.2" fill="#108030" opacity="0.09"/>
<linearGradient id="edl" x1="0" y1="0" x2="1" y2="0"><stop offset="0" stop-color="#28a83c" stop-opacity="0.8"/><stop offset="0.3" stop-color="#28a83c" stop-opacity="0.6"/><stop offset="0.5" stop-color="#28a83c" stop-opacity="0.35"/><stop offset="1" stop-color="#28a83c" stop-opacity="0.45"/></linearGradient>
<rect x="385.0" y="151.8" width="251.60000000000002" height="1.0" fill="url(#edl)"/>
</g>
<polygon points="436.5,234.9 448.4,234.9 450.1,300.9 435.6,300.9" fill="#1e9048" opacity="0.55"/>
<polygon points="575,234.9 588,234.9 589.2,300.9 574.4,300.9" fill="#1e9048" opacity="0.55"/>
<path d="M435.6,300.9 L436.5,234.9 M448.4,234.9 L450.1,300.9" stroke="#000" stroke-width="1.9" fill="none"/>
<path d="M470.6,300.9 L471.1,234.9 M476.9,234.9 L478.1,300.9" stroke="#000" stroke-width="1.9" fill="none"/>
<path d="M489.3,300.9 L490.5,234.9 M495.6,234.9 L496.8,300.9" stroke="#000" stroke-width="1.9" fill="none"/>
<path d="M508.5,300.9 L509.6,234.9 M515,234.9 L516,300.9" stroke="#000" stroke-width="1.9" fill="none"/>
<path d="M527.2,300.9 L528.3,234.9 M533.7,234.9 L535.3,300.9" stroke="#000" stroke-width="1.9" fill="none"/>
<path d="M546.6,300.9 L547.2,234.9 M552.2,234.9 L553.4,300.9" stroke="#000" stroke-width="1.9" fill="none"/>
<path d="M574.4,300.9 L575,234.9 M588,234.9 L589.2,300.9" stroke="#000" stroke-width="1.9" fill="none"/>
<line x1="385.0" y1="300.4" x2="636.6" y2="300.4" stroke="#000" stroke-width="1.6"/>
<line x1="387.5" y1="234.9" x2="636.6" y2="234.9" stroke="#1a3cff" stroke-width="1.6"/>
<path d="M385.3,194.4 C388.32,193.72 397.28,192.67 403.4,190.3 C409.52,187.93 417.83,182.65 422,180.2 C426.17,177.75 425.75,177.43 428.4,175.6 C431.05,173.77 435.88,170.42 437.9,169.2 C439.92,167.98 439.48,168.47 440.5,168.3 C441.52,168.13 442.87,168.05 444,168.2 C445.13,168.35 446.32,168.75 447.3,169.2 C448.28,169.65 448.32,169.68 449.9,170.9 C451.48,172.12 454.08,174.72 456.8,176.5 C459.52,178.28 462.85,179.97 466.2,181.6 C469.55,183.23 473.37,185.03 476.9,186.3 C480.43,187.57 483.9,188.37 487.4,189.2 C490.9,190.03 494.4,190.87 497.9,191.3 C501.4,191.73 504.72,191.8 508.4,191.8 C512.08,191.8 516.4,191.53 520,191.3 C523.6,191.07 526.67,190.88 530,190.4 C533.33,189.92 536.95,189.3 540,188.4 C543.05,187.5 545.08,186.27 548.3,185 C551.52,183.73 556.9,181.87 559.3,180.8 C561.7,179.73 561.13,179.53 562.7,178.6 C564.27,177.67 567.27,176.2 568.7,175.2 C570.13,174.2 569.87,173.7 571.3,172.6 C572.73,171.5 575.58,169.32 577.3,168.6 C579.02,167.88 579.88,168.13 581.6,168.3 C583.32,168.47 586.17,168.88 587.6,169.6 C589.03,170.32 588.77,171.38 590.2,172.6 C591.63,173.82 592.85,174.63 596.2,176.9 C599.55,179.17 605.28,183.7 610.3,186.2 C615.32,188.7 621.98,190.62 626.3,191.9 C630.62,193.18 634.55,193.57 636.2,193.9" stroke="#111" stroke-width="1.5" fill="none" stroke-dasharray="5.3 5"/>
<path d="M385.3,193.6 C387.92,192.93 396.05,191.25 401,189.6 C405.95,187.95 411,185.75 415,183.7 C419,181.65 421.9,179.72 425,177.3 C428.1,174.88 431.45,170.98 433.6,169.2 C435.75,167.42 436.33,167.15 437.9,166.6 C439.47,166.05 441.43,165.83 443,165.9 C444.57,165.97 446,166.32 447.3,167 C448.6,167.68 449.52,169 450.8,170 C452.08,171 453.3,172.07 455,173 C456.7,173.93 458.5,174.73 461,175.6 C463.5,176.47 466.37,177.1 470,178.2 C473.63,179.3 478.97,181.18 482.8,182.2 C486.63,183.22 489.5,183.77 493,184.3 C496.5,184.83 500.63,185.18 503.8,185.4 C506.97,185.62 509.27,185.63 512,185.6 C514.73,185.57 517.2,185.57 520.2,185.2 C523.2,184.83 526.7,183.95 530,183.4 C533.3,182.85 535.83,182.83 540,181.9 C544.17,180.97 551.07,179.07 555,177.8 C558.93,176.53 561.17,175.38 563.6,174.3 C566.03,173.22 567.88,172.43 569.6,171.3 C571.32,170.17 572.47,168.38 573.9,167.5 C575.33,166.62 576.77,166.25 578.2,166 C579.63,165.75 581.22,165.83 582.5,166 C583.78,166.17 584.75,166.33 585.9,167 C587.05,167.67 588.1,168.85 589.4,170 C590.7,171.15 591.93,172.53 593.7,173.9 C595.47,175.27 596.85,176.27 600,178.2 C603.15,180.13 608.22,183.4 612.6,185.5 C616.98,187.6 622.37,189.53 626.3,190.8 C630.23,192.07 634.55,192.72 636.2,193.1" stroke="#f01a14" stroke-width="1.6" fill="none"/>
<text x="564.6" y="190" font-size="9" text-anchor="start" font-weight="normal" fill="#000" style="font-family:'Liberation Sans',sans-serif" >V</text>
<text x="570.4" y="194.2" font-size="7" text-anchor="start" font-weight="normal" fill="#000" style="font-family:'Liberation Sans',sans-serif" >N</text>
<text x="575.6" y="190" font-size="9" text-anchor="start" font-weight="normal" fill="#000" style="font-family:'Liberation Sans',sans-serif" >[meV]</text>
<line x1="545" y1="204.4" x2="570" y2="204.4" stroke="#111" stroke-width="1.5" stroke-dasharray="5 5"/>
<line x1="545" y1="218.9" x2="570" y2="218.9" stroke="#f01a14" stroke-width="1.6"/>
<text x="575.2" y="208" font-size="9" text-anchor="start" font-weight="normal" fill="#000" style="font-family:'Liberation Sans',sans-serif" >0</text>
<text x="575.2" y="222.4" font-size="9" text-anchor="start" font-weight="normal" fill="#000" style="font-family:'Liberation Sans',sans-serif" >50</text>
<text x="404" y="226" font-size="9.6" text-anchor="start" font-weight="normal" fill="#000" style="font-family:'Liberation Sans',sans-serif" >E</text>
<text x="409.4" y="230.4" font-size="7" text-anchor="start" font-weight="normal" fill="#000" style="font-family:'Liberation Sans',sans-serif" >F</text>
<rect x="385.0" y="139.3" width="251.60000000000002" height="161.59999999999997" fill="none" stroke="#222" stroke-width="1.1"/>
<line x1="385" y1="139.3" x2="385" y2="142.3" stroke="#222" stroke-width="1"/>
<line x1="385" y1="300.9" x2="385" y2="297.9" stroke="#222" stroke-width="1"/>
<text x="384.6" y="321.4" font-size="16.5" text-anchor="middle" font-weight="normal" fill="#000" style="font-family:'Liberation Sans',sans-serif" >0</text>
<line x1="447.9" y1="139.3" x2="447.9" y2="142.3" stroke="#222" stroke-width="1"/>
<line x1="447.9" y1="300.9" x2="447.9" y2="297.9" stroke="#222" stroke-width="1"/>
<text x="448.1" y="321.4" font-size="16.5" text-anchor="middle" font-weight="normal" fill="#000" style="font-family:'Liberation Sans',sans-serif" >25</text>
<line x1="510.8" y1="139.3" x2="510.8" y2="142.3" stroke="#222" stroke-width="1"/>
<line x1="510.8" y1="300.9" x2="510.8" y2="297.9" stroke="#222" stroke-width="1"/>
<text x="511" y="321.4" font-size="16.5" text-anchor="middle" font-weight="normal" fill="#000" style="font-family:'Liberation Sans',sans-serif" >50</text>
<line x1="573.7" y1="139.3" x2="573.7" y2="142.3" stroke="#222" stroke-width="1"/>
<line x1="573.7" y1="300.9" x2="573.7" y2="297.9" stroke="#222" stroke-width="1"/>
<text x="574.3" y="321.4" font-size="16.5" text-anchor="middle" font-weight="normal" fill="#000" style="font-family:'Liberation Sans',sans-serif" >75</text>
<line x1="636.6" y1="139.3" x2="636.6" y2="142.3" stroke="#222" stroke-width="1"/>
<line x1="636.6" y1="300.9" x2="636.6" y2="297.9" stroke="#222" stroke-width="1"/>
<text x="636.2" y="321.4" font-size="16.5" text-anchor="middle" font-weight="normal" fill="#000" style="font-family:'Liberation Sans',sans-serif" >100</text>
<line x1="385.0" y1="301.5" x2="388.0" y2="301.5" stroke="#222" stroke-width="1"/>
<line x1="636.6" y1="301.5" x2="633.6" y2="301.5" stroke="#222" stroke-width="1"/>
<text x="380.5" y="306.7" font-size="16.5" text-anchor="end" font-weight="normal" fill="#000" style="font-family:'Liberation Sans',sans-serif" >0</text>
<line x1="385.0" y1="247.63" x2="388.0" y2="247.63" stroke="#222" stroke-width="1"/>
<line x1="636.6" y1="247.63" x2="633.6" y2="247.63" stroke="#222" stroke-width="1"/>
<text x="380.5" y="253.8" font-size="16.5" text-anchor="end" font-weight="normal" fill="#000" style="font-family:'Liberation Sans',sans-serif" >0.04</text>
<line x1="385.0" y1="193.77" x2="388.0" y2="193.77" stroke="#222" stroke-width="1"/>
<line x1="636.6" y1="193.77" x2="633.6" y2="193.77" stroke="#222" stroke-width="1"/>
<text x="380.5" y="200.5" font-size="16.5" text-anchor="end" font-weight="normal" fill="#000" style="font-family:'Liberation Sans',sans-serif" >0.08</text>
<line x1="385.0" y1="139.9" x2="388.0" y2="139.9" stroke="#222" stroke-width="1"/>
<line x1="636.6" y1="139.9" x2="633.6" y2="139.9" stroke="#222" stroke-width="1"/>
<text x="380.5" y="147.3" font-size="16.5" text-anchor="end" font-weight="normal" fill="#000" style="font-family:'Liberation Sans',sans-serif" >0.12</text>
<text transform="translate(333.1,219.8) rotate(-90)" font-size="16.5" text-anchor="middle" style="font-family:'Liberation Sans',sans-serif">E [eV]</text>
<text x="510.4" y="345.9" font-size="17.5" text-anchor="middle" font-weight="normal" fill="#000" style="font-family:'Liberation Sans',sans-serif" >x [nm]</text>
</svg></body></html>
